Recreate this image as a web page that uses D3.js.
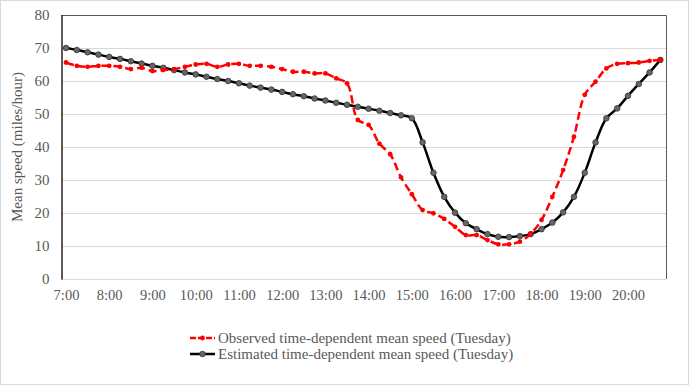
<!DOCTYPE html>
<html>
<head>
<meta charset="utf-8">
<script src="https://cdn.jsdelivr.net/npm/d3@7"></script>
<style>
  body { margin: 0; background: #fff; }
  svg { display: block; font-family: "Liberation Serif", "Times New Roman", serif; }
  .tick text { fill: #595959; }
</style>
</head>
<body>
<div id="chart"></div>
<script>
const times = [
  '7:00', '7:15', '7:30', '7:45', '8:00', '8:15', '8:30', '8:45',
  '9:00', '9:15', '9:30', '9:45', '10:00', '10:15', '10:30', '10:45',
  '11:00', '11:15', '11:30', '11:45', '12:00', '12:15', '12:30', '12:45',
  '13:00', '13:15', '13:30', '13:45', '14:00', '14:15', '14:30', '14:45',
  '15:00', '15:15', '15:30', '15:45', '16:00', '16:15', '16:30', '16:45',
  '17:00', '17:15', '17:30', '17:45', '18:00', '18:15', '18:30', '18:45',
  '19:00', '19:15', '19:30', '19:45', '20:00', '20:15', '20:30', '20:45'
];

const observed = [
  65.6, 64.6, 64.3, 64.6, 64.6, 64.3, 63.6, 64.0,
  63.0, 63.3, 63.6, 64.3, 65.0, 65.2, 64.3, 65.0,
  65.2, 64.6, 64.6, 64.3, 63.6, 62.8, 62.8, 62.3,
  62.3, 60.8, 59.3, 48.2, 46.7, 41.0, 37.8, 30.8,
  25.7, 20.9, 19.9, 18.2, 15.8, 13.3, 13.3, 11.8,
  10.5, 10.5, 11.3, 13.7, 17.9, 24.9, 33.0, 43.1,
  55.8, 59.8, 63.8, 65.2, 65.4, 65.6, 66.1, 66.4
];

const estimated = [
  70.0, 69.4, 68.7, 68.0, 67.3, 66.7, 66.0, 65.3,
  64.6, 64.0, 63.3, 62.6, 62.0, 61.3, 60.6, 60.0,
  59.3, 58.6, 58.0, 57.4, 56.7, 56.0, 55.4, 54.7,
  54.1, 53.4, 52.8, 52.2, 51.6, 51.0, 50.3, 49.6,
  48.7, 41.4, 32.2, 24.9, 20.1, 16.9, 15.1, 13.6,
  12.8, 12.7, 13.0, 13.6, 15.1, 17.1, 20.2, 24.9,
  32.2, 41.4, 48.7, 51.7, 55.5, 59.1, 62.6, 66.4
];

const hourTicks = ['7:00', '8:00', '9:00', '10:00', '11:00', '12:00', '13:00',
  '14:00', '15:00', '16:00', '17:00', '18:00', '19:00', '20:00'];
const yTicks = [0, 10, 20, 30, 40, 50, 60, 70, 80];

const seriesNames = [
  'Observed time-dependent mean speed (Tuesday)',
  'Estimated time-dependent mean speed (Tuesday)'
];

const width = 689;
const height = 385;
const plot = { left: 61, right: 666, top: 15, bottom: 279 };
const serif = '"Liberation Serif", "Times New Roman", serif';

const svg = d3.select('#chart').append('svg')
  .attr('width', width)
  .attr('height', height);

// chart area border
svg.append('rect')
  .attr('x', 0.5).attr('y', 0.5)
  .attr('width', width - 1).attr('height', height - 1)
  .attr('fill', '#fff')
  .attr('stroke', '#d9d9d9');

const x = d3.scalePoint()
  .domain(times)
  .range([66, 660.4]);

const y = d3.scaleLinear()
  .domain([0, 80])
  .range([plot.bottom, plot.top]);

// gridlines
svg.append('g')
  .selectAll('line')
  .data(yTicks)
  .join('line')
  .attr('x1', plot.left).attr('x2', plot.right)
  .attr('y1', d => y(d) + 0.5).attr('y2', d => y(d) + 0.5)
  .attr('stroke', '#d9d9d9')
  .attr('stroke-width', 1);

// top and right border of plot area
svg.append('path')
  .attr('d', `M${plot.left},${plot.top + 0.5}H${plot.right + 0.5}V${plot.bottom}`)
  .attr('fill', 'none')
  .attr('stroke', '#595959')
  .attr('stroke-width', 1);

const yAxis = svg.append('g')
  .attr('transform', `translate(${plot.left + 0.5},0)`)
  .call(d3.axisLeft(y).tickValues(yTicks).tickSize(0).tickPadding(12))
  .attr('font-family', serif)
  .attr('font-size', 15);
yAxis.select('.domain').attr('stroke', '#000').attr('stroke-width', 1.3);

const xAxis = svg.append('g')
  .attr('transform', `translate(0,${plot.bottom})`)
  .call(d3.axisBottom(x).tickValues(hourTicks).tickSize(0).tickPadding(11))
  .attr('font-family', serif)
  .attr('font-size', 14.5);
xAxis.select('.domain').remove();

svg.append('text')
  .attr('transform', `translate(22,${(plot.top + plot.bottom) / 2}) rotate(-90)`)
  .attr('text-anchor', 'middle')
  .attr('fill', '#595959')
  .style('font-size', '15px')
  .text('Mean speed (miles/hour)');

const line = d3.line()
  .x((d, i) => x(times[i]))
  .y(d => y(d))
  .curve(d3.curveCatmullRom.alpha(0.5));

// estimated series
svg.append('path')
  .datum(estimated)
  .attr('d', line)
  .attr('fill', 'none')
  .attr('stroke', '#000')
  .attr('stroke-width', 2.5);

svg.append('g')
  .selectAll('circle')
  .data(estimated)
  .join('circle')
  .attr('cx', (d, i) => x(times[i]))
  .attr('cy', d => y(d))
  .attr('r', 2.8)
  .attr('fill', '#666')
  .attr('stroke', '#333')
  .attr('stroke-width', 0.8);

// observed series
svg.append('path')
  .datum(observed)
  .attr('d', line)
  .attr('fill', 'none')
  .attr('stroke', '#ff0000')
  .attr('stroke-width', 2.5)
  .attr('stroke-dasharray', '8,4');

svg.append('g')
  .selectAll('circle')
  .data(observed)
  .join('circle')
  .attr('cx', (d, i) => x(times[i]))
  .attr('cy', d => y(d))
  .attr('r', 2.4)
  .attr('fill', '#ff0000');

// legend
const legend = svg.append('g')
  .attr('transform', 'translate(190,338)');

const items = legend.selectAll('g')
  .data(seriesNames)
  .join('g')
  .attr('transform', (d, i) => `translate(0,${i * 16})`);

items.append('line')
  .attr('x1', 0).attr('x2', 25)
  .attr('stroke', (d, i) => i === 0 ? '#ff0000' : '#000')
  .attr('stroke-width', 2.5)
  .attr('stroke-dasharray', (d, i) => i === 0 ? '6,2' : null);

items.append('circle')
  .attr('cx', 12.5)
  .attr('r', (d, i) => i === 0 ? 2.4 : 2.8)
  .attr('fill', (d, i) => i === 0 ? '#ff0000' : '#666')
  .attr('stroke', (d, i) => i === 0 ? 'none' : '#333')
  .attr('stroke-width', 0.8);

items.append('text')
  .attr('x', 28)
  .attr('dy', '0.35em')
  .attr('fill', '#595959')
  .style('font-size', '15px')
  .text(d => d);
</script>
</body>
</html>
